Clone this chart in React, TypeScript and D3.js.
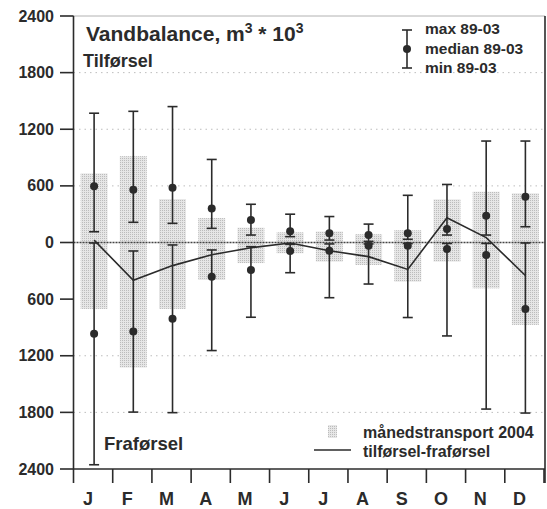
import React from "react";
import * as d3 from "d3";

const months = ["J", "F", "M", "A", "M", "J", "J", "A", "S", "O", "N", "D"];
// Tilførsel (inflow) statistics 89-03
const tilMax = [1370, 1390, 1440, 880, 405, 300, 275, 195, 500, 615, 1075, 1075];
const tilMedian = [595, 560, 580, 360, 238, 118, 97, 79, 97, 143, 284, 485];
const tilMin = [114, 214, 203, 150, 79, 62, 26, 12, 34, 79, 79, 167];
// Fraførsel (outflow) statistics 89-03 (negative)
const fraMin = [-5, -90, -26, -79, -44, -20, -15, -15, -10, -10, -10, -5];
const fraMedian = [-966, -944, -809, -362, -291, -90, -87, -34, -34, -69, -132, -704];
const fraMax = [-2355, -1797, -1803, -1145, -792, -320, -585, -440, -795, -990, -1765, -1807];
// Monthly transport 2004
const transportIn = [732, 915, 460, 259, 157, 108, 116, 88, 130, 457, 538, 521];
const transportOut = [-704, -1325, -704, -397, -218, -114, -203, -238, -415, -203, -486, -873];
// Tilførsel - fraførsel 2004
const balance = [25, -400, -245, -130, -55, -5, -87, -150, -285, 262, 52, -350];

const yTicks = [2400, 1800, 1200, 600, 0, -600, -1200, -1800, -2400];
const gridValues = [1800, 1200, 600, -1200, -1800];

const FONT = "'Liberation Sans', Arial, Helvetica, sans-serif";
const INK = "#2b2b2b";

export default function App() {
  const W = 547;
  const H = 509;
  const x0 = 73.5;
  const x1 = 544;
  const x = d3.scaleBand<number>().domain(d3.range(12)).range([x0, x1]).padding(0);
  const y = d3.scaleLinear().domain([-2400, 2400]).range([469, 16]);
  const bw = x.bandwidth();
  const cx = (i: number) => (x(i) as number) + bw / 2 + 1;
  const barW = 27;
  const capW = 5;

  const line = d3
    .line<number>()
    .x((_, i) => cx(i))
    .y((d) => y(d));

  const errBar = (i: number, lo: number, hi: number, key: string) => (
    <g key={key} stroke={INK} strokeWidth={1.6}>
      <line x1={cx(i)} x2={cx(i)} y1={y(lo)} y2={y(hi)} />
      <line x1={cx(i) - capW} x2={cx(i) + capW} y1={y(lo)} y2={y(lo)} />
      <line x1={cx(i) - capW} x2={cx(i) + capW} y1={y(hi)} y2={y(hi)} />
    </g>
  );

  return (
    <svg
      width={W}
      height={H}
      style={{ position: "absolute", left: 0, top: 0, background: "#fff" }}
      fontFamily={FONT}
    >
      <defs>
        <pattern id="stip" width="2" height="2" patternUnits="userSpaceOnUse">
          <rect width="2" height="2" fill="#e6e6e6" />
          <rect width="1" height="1" fill="#bcbcbc" />
        </pattern>
      </defs>
      <rect width={W} height={H} fill="#fff" />

      {/* grid */}
      {gridValues.map((v) => (
        <line
          key={"g" + v}
          x1={x0}
          x2={x1}
          y1={y(v)}
          y2={y(v)}
          stroke="#bdbdbd"
          strokeWidth={1}
          strokeDasharray="1.5,4"
        />
      ))}
      {/* top border dotted */}
      <line x1={x0} x2={545} y1={y(2400)} y2={y(2400)} stroke="#666" strokeWidth={1} strokeDasharray="1,1" />

      {/* monthly transport bars */}
      {months.map((_, i) => (
        <g key={"b" + i}>
          <rect
            x={cx(i) - barW / 2}
            y={y(transportIn[i])}
            width={barW}
            height={y(0) - y(transportIn[i])}
            fill="url(#stip)"
          />
          <rect
            x={cx(i) - barW / 2}
            y={y(0)}
            width={barW}
            height={y(transportOut[i]) - y(0)}
            fill="url(#stip)"
          />
        </g>
      ))}

      {/* zero line */}
      <line x1={x0} x2={545} y1={y(0)} y2={y(0)} stroke="#444" strokeWidth={1.4} strokeDasharray="2,1" />

      {/* error bars */}
      {months.map((_, i) => errBar(i, tilMin[i], tilMax[i], "ep" + i))}
      {months.map((_, i) => errBar(i, fraMin[i], fraMax[i], "en" + i))}
      {months.map((_, i) => (
        <g key={"d" + i} fill={INK}>
          <circle cx={cx(i)} cy={y(tilMedian[i])} r={4} />
          <circle cx={cx(i)} cy={y(fraMedian[i])} r={4} />
        </g>
      ))}

      {/* balance line */}
      <path d={line(balance) || ""} fill="none" stroke={INK} strokeWidth={1.6} />

      {/* axes */}
      <line x1={x0} x2={x0} y1={y(2400)} y2={y(-2400)} stroke={INK} strokeWidth={1.6} />
      <line x1={545} x2={545} y1={y(2400)} y2={483} stroke={INK} strokeWidth={1.6} />
      <line x1={x0} x2={545} y1={y(-2400)} y2={y(-2400)} stroke={INK} strokeWidth={1.6} />
      {yTicks.map((v) => (
        <g key={"yt" + v}>
          <line x1={60} x2={x0} y1={y(v)} y2={y(v)} stroke={INK} strokeWidth={1.6} />
          <text
            x={54}
            y={y(v) + 5.5}
            textAnchor="end"
            fontSize={16}
            fontWeight="bold"
            fill={INK}
          >
            {Math.abs(v)}
          </text>
        </g>
      ))}
      {d3.range(13).map((i) => {
        const xx = i < 12 ? (x(i) as number) : x1;
        return (
          <line key={"xt" + i} x1={xx} x2={xx} y1={y(-2400)} y2={483} stroke={INK} strokeWidth={1.6} />
        );
      })}
      {months.map((m, i) => (
        <text
          key={"ml" + i}
          x={cx(i) - 6}
          y={505}
          textAnchor="middle"
          fontSize={18}
          fontWeight="bold"
          fill={INK}
        >
          {m}
        </text>
      ))}

      {/* title */}
      <text x={86} y={41} fontSize={21} fontWeight="bold" fill={INK}>
        Vandbalance, m
        <tspan fontSize={14} dy={-8}>3</tspan>
        <tspan dy={8}> * 10</tspan>
        <tspan fontSize={14} dy={-8}>3</tspan>
      </text>
      <text x={83} y={67} fontSize={18} fontWeight="bold" fill={INK}>
        Tilførsel
      </text>
      <text x={104} y={450} fontSize={18.5} fontWeight="bold" fill={INK}>
        Fraførsel
      </text>

      {/* legend: error bar */}
      <g stroke={INK} strokeWidth={1.6}>
        <line x1={407} x2={407} y1={30} y2={68} />
        <line x1={402} x2={412} y1={30} y2={30} />
        <line x1={402} x2={412} y1={68} y2={68} />
      </g>
      <circle cx={407} cy={49} r={4} fill={INK} />
      <text x={425} y={34} fontSize={15.5} fontWeight="bold" fill={INK}>
        max 89-03
      </text>
      <text x={425} y={54} fontSize={15.5} fontWeight="bold" fill={INK}>
        median 89-03
      </text>
      <text x={425} y={73} fontSize={15.5} fontWeight="bold" fill={INK}>
        min 89-03
      </text>

      {/* legend: transport and line */}
      <rect x={328} y={425} width={9} height={13} fill="url(#stip)" />
      <text x={363} y={438} fontSize={16} fontWeight="bold" fill={INK}>
        månedstransport 2004
      </text>
      <line x1={314} x2={351} y1={450} y2={450} stroke={INK} strokeWidth={1.6} />
      <text x={363} y={457} fontSize={16} fontWeight="bold" fill={INK}>
        tilførsel-fraførsel
      </text>
    </svg>
  );
}
